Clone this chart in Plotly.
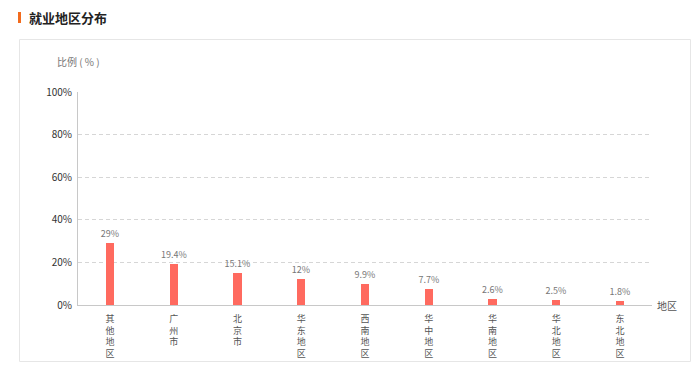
import plotly.graph_objects as go

categories = ["其他地区", "广州市", "北京市", "华东地区", "西南地区", "华中地区", "华南地区", "华北地区", "东北地区"]
values = [29, 19.4, 15.1, 12, 9.9, 7.7, 2.6, 2.5, 1.8]
y_ticks = [0, 20, 40, 60, 80, 100]

OFF = 8  # page body margin
W, H = 699 - OFF, 374 - OFF
L, R, T, B = 78 - OFF, 652 - OFF, 92 - OFF, 305 - OFF

def px(x):
    return (x - OFF - L) / (R - L)

def py(y):
    return (B - (y - OFF)) / (B - T)

FONT = "Noto Sans CJK SC, Microsoft YaHei, sans-serif"

tick_text = ["<br>".join(list(c)) for c in categories]

fig = go.Figure(go.Bar(
    x=categories, y=values,
    width=0.13,
    marker=dict(color="#ff6a5f", line=dict(width=0)),
    text=[f"{v:g}%" for v in values],
    textposition="outside",
    constraintext="none",
    textfont=dict(size=9, color="#777", family=FONT),
    cliponaxis=False,
))

fig.update_layout(
    width=W, height=H,
    margin=dict(l=L, r=W - R, t=T, b=H - B, pad=0),
    paper_bgcolor="white", plot_bgcolor="white",
    showlegend=False,
    font=dict(family=FONT, size=10, color="#333"),
    bargap=0,
)
fig.update_xaxes(
    tickmode="array", tickvals=categories, ticktext=tick_text,
    tickfont=dict(size=9, color="#555"),
    showline=True, linecolor="#c8c8c8", linewidth=1,
    ticks="", showgrid=False, zeroline=False, ticklabelstandoff=5,
)
fig.update_yaxes(
    range=[0, 100], tickvals=y_ticks, ticktext=[f"{t}%" for t in y_ticks],
    tickfont=dict(size=10, color="#333"),
    showline=True, linecolor="#c8c8c8", linewidth=1,
    showgrid=True, gridcolor="#d6d6d6", griddash="4px,3px", gridwidth=1,
    zeroline=False, ticks="", ticklabelstandoff=3,
)

# frame box
fig.add_shape(type="rect", xref="paper", yref="paper",
              x0=px(19.5), x1=px(690.5), y0=py(361.5), y1=py(39.5),
              line=dict(color="#e6e6e6", width=1), fillcolor="rgba(0,0,0,0)", layer="below")
# orange title marker
fig.add_shape(type="rect", xref="paper", yref="paper",
              x0=px(18), x1=px(21), y0=py(23), y1=py(12),
              line=dict(width=0), fillcolor="#f26b1d")

fig.add_annotation(text="<b>就业地区分布</b>", xref="paper", yref="paper",
                   x=px(27), y=py(17.5), xanchor="left", yanchor="middle",
                   showarrow=False, font=dict(size=13, color="#222", family=FONT))
fig.add_annotation(text="比例 ( % )", xref="paper", yref="paper",
                   x=px(55), y=py(62), xanchor="left", yanchor="middle",
                   showarrow=False, font=dict(size=10, color="#777", family=FONT))
fig.add_annotation(text="地区", xref="paper", yref="paper",
                   x=px(655), y=py(305), xanchor="left", yanchor="middle",
                   showarrow=False, font=dict(size=10, color="#555", family=FONT))

fig.write_html("out.html")
